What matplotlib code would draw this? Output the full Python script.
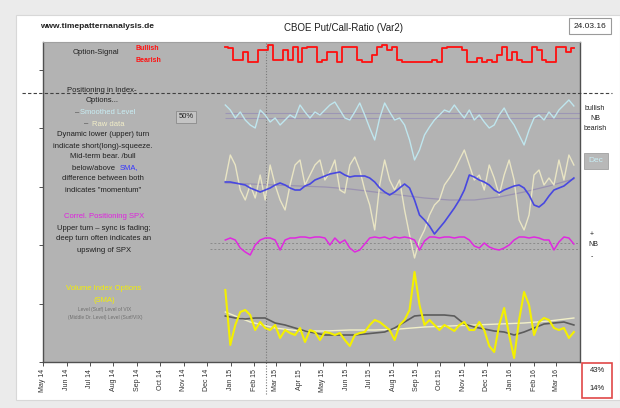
"""
CBOE Put/Call-Ratio (Var2) - Nachbau des Charts von timepatternanalysis.de
Werte grob aus dem Bild abgelesen (Skala ohne Beschriftung, 0 = Unterkante, 320 = Oberkante)
"""
import pandas as pd
import matplotlib
matplotlib.use('Agg')
import matplotlib.pyplot as plt
from matplotlib.lines import Line2D
from matplotlib.patches import Rectangle

plt.rcParams['font.family'] = ['Liberation Sans', 'DejaVu Sans']

# Datenbereich: 25.12.2014 - 24.03.2016
DATA_START = '2014-12-25'
DATA_END = '2016-03-24'

# Option-Signal (Rechteckkurve bullish/bearish)
signal = [315, 314, 302, 302, 310, 300, 300, 312, 312, 317,
          302, 302, 312, 302, 315, 300, 314, 315, 315, 300,
          302, 310, 310, 300, 315, 315, 315, 302, 300, 300,
          307, 315, 317, 312, 315, 302, 300, 300, 300, 300,
          300, 300, 302, 300, 314, 315, 315, 315, 312, 300,
          300, 304, 300, 302, 300, 307, 315, 302, 310, 302,
          300, 300, 315, 312, 302, 300, 300, 315, 315, 310, 314]

# Positioning - Smoothed Level
smoothed = [257, 252, 244, 250, 242, 237, 234, 252, 247, 240,
            244, 237, 242, 247, 244, 257, 250, 244, 250, 247,
            252, 257, 260, 252, 244, 242, 250, 259, 247, 234,
            222, 244, 259, 250, 242, 244, 237, 222, 202, 212,
            227, 235, 242, 247, 252, 250, 257, 250, 244, 252,
            242, 247, 240, 234, 237, 247, 254, 244, 237, 227,
            217, 232, 244, 247, 242, 250, 244, 252, 257, 262, 256]

# Positioning - Raw data
raw = [182, 207, 197, 172, 162, 177, 164, 187, 162, 197,
       177, 162, 152, 177, 197, 202, 177, 187, 197, 202,
       182, 190, 202, 172, 169, 197, 205, 192, 172, 157,
       132, 177, 202, 182, 172, 182, 152, 127, 104, 122,
       132, 147, 157, 162, 177, 184, 192, 202, 212, 197,
       182, 187, 172, 197, 184, 167, 187, 202, 182, 142,
       132, 147, 187, 192, 177, 184, 177, 202, 182, 207, 197]

# SMA der Rohdaten
sma = [180, 180, 179, 178, 177, 174, 172, 170, 172, 174,
       177, 179, 177, 174, 172, 172, 176, 178, 182, 184,
       186, 188, 189, 190, 187, 185, 186, 186, 186, 184,
       180, 174, 170, 167, 170, 174, 178, 174, 162, 147,
       142, 136, 128, 134, 140, 147, 154, 162, 172, 187,
       185, 182, 180, 177, 172, 169, 172, 174, 176, 177,
       174, 167, 157, 155, 159, 166, 172, 174, 176, 180, 184]

# langfristiger Trend (grau)
raw_trend = [179, 178, 177, 176, 175, 173, 170, 167, 164, 162, 162, 165, 170, 176, 183]

# Korrelation Positioning / SPX
correl = [122, 124, 122, 114, 110, 107, 117, 122, 124, 124,
          122, 112, 122, 124, 124, 125, 125, 124, 125, 125,
          124, 117, 124, 119, 122, 114, 110, 112, 118, 124,
          125, 124, 125, 123, 125, 124, 125, 124, 122, 112,
          121, 125, 125, 124, 125, 125, 124, 125, 125, 122,
          116, 114, 119, 115, 113, 112, 114, 117, 122, 125,
          125, 124, 125, 124, 122, 122, 112, 120, 125, 124, 118]

# Volumen Index-Optionen (SMA)
volume = [72, 17, 37, 50, 52, 47, 32, 40, 34, 32,
          37, 24, 32, 29, 27, 34, 20, 32, 30, 22,
          30, 29, 27, 29, 22, 16, 27, 29, 30, 37,
          42, 40, 36, 32, 22, 37, 42, 52, 90, 57,
          37, 42, 37, 32, 37, 34, 31, 37, 40, 32,
          32, 40, 32, 16, 10, 37, 54, 27, 4, 42,
          70, 57, 27, 40, 44, 42, 34, 32, 34, 24, 30]

volume_ma = [46, 44, 43, 44, 44, 39, 37, 34, 31, 29,
             27, 27, 27, 27, 28, 29, 30, 34, 40, 46,
             47, 47, 47, 46, 38, 35, 33, 31, 30, 27,
             30, 34, 38, 39, 40, 37]

volume_trend = [50, 40, 34, 31, 31, 32, 32, 33, 35, 36, 37, 38, 39, 41, 44]

month_labels = ['May 14', 'Jun 14', 'Jul 14', 'Aug 14', 'Sep 14', 'Oct 14', 'Nov 14',
                'Dec 14', 'Jan 15', 'Feb 15', 'Mar 15', 'Apr 15', 'May 15', 'Jun 15',
                'Jul 15', 'Aug 15', 'Sep 15', 'Oct 15', 'Nov 15', 'Dec 15', 'Jan 16',
                'Feb 16', 'Mar 16']

W, H = 620, 408


def fx(px):
    return px / W


def fy(py):
    return 1 - py / H


def ftext(fig, px, py, s, **kw):
    kw.setdefault('ha', 'center')
    kw.setdefault('va', 'center')
    kw.setdefault('fontsize', 5.5)
    kw.setdefault('color', '#202020')
    fig.text(fx(px), fy(py), s, **kw)


def run():
    fig = plt.figure(figsize=(W / 100, H / 100), dpi=100, facecolor='#ebebeb')
    fig.add_artist(Rectangle((fx(16), fy(400)), fx(620) - fx(16), fy(15) - fy(400),
                             transform=fig.transFigure, facecolor='white', edgecolor='#d8d8d8',
                             lw=0.8, zorder=-10))

    ax = fig.add_axes([fx(43), fy(362), fx(580) - fx(43), fy(42) - fy(362)])
    ax.set_facecolor('#b3b3b3')

    x = pd.date_range(DATA_START, DATA_END, periods=len(signal))
    x_ma = pd.date_range(DATA_START, DATA_END, periods=len(volume_ma))
    x_tr = pd.date_range(DATA_START, DATA_END, periods=len(raw_trend))
    x_vt = pd.date_range(DATA_START, DATA_END, periods=len(volume_trend))

    # Hilfslinien
    ax.hlines([249, 244], pd.Timestamp(DATA_START), pd.Timestamp('2016-04-01'), color='#9c96b4', lw=0.8)
    ax.hlines([119, 113], pd.Timestamp('2014-12-05'), pd.Timestamp('2016-04-01'), color='#8a8a8a',
              lw=0.7, linestyles=(0, (2, 2)))
    ax.axvline(pd.Timestamp('2015-02-16'), ymin=-0.1, ymax=1, color='#7a7a7a', lw=0.8,
               linestyle=(0, (1, 1.5)), clip_on=False)

    ax.plot(x, signal, color='#ff1010', lw=1.3, drawstyle='steps-mid')
    ax.plot(x, smoothed, color='#bfe6ee', lw=1.0)
    ax.plot(x_tr, raw_trend, color='#9a92b0', lw=0.9)
    ax.plot(x, raw, color='#e9e5c4', lw=1.0)
    ax.plot(x, sma, color='#4848e0', lw=1.2)
    ax.plot(x, correl, color='#e028e0', lw=1.1)
    ax.plot(x_vt, volume_trend, color='#f2f0c8', lw=1.0)
    ax.plot(x_ma, volume_ma, color='#5c5c5c', lw=1.2)
    ax.plot(x, volume, color='#f4f000', lw=1.5)

    ax.set_xlim(pd.Timestamp('2014-05-01'), pd.Timestamp('2016-04-01'))
    ax.set_ylim(0, 320)
    ticks = pd.date_range('2014-05-01', periods=len(month_labels), freq='MS')
    ax.set_xticks(ticks)
    ax.set_xticklabels(month_labels, rotation=90, fontsize=5, color='#303030')
    ax.set_yticks([0, 58.4, 116.8, 175.2, 233.6, 292])
    ax.set_yticklabels([])
    ax.tick_params(axis='both', length=3, width=0.7, color='#505050', pad=2)
    for side in ['left', 'bottom', 'right']:
        ax.spines[side].set_color('#505050')
        ax.spines[side].set_linewidth(1.0)
    ax.spines['top'].set_color('#a0a0a0')

    # gestrichelte Trennlinie quer ueber die Grafik
    fig.add_artist(Line2D([fx(22), fx(612)], [fy(93), fy(93)], transform=fig.transFigure,
                          color='#404040', lw=0.8, linestyle=(0, (3, 2)), zorder=5))

    # Kopfzeile
    ftext(fig, 40, 26, 'www.timepatternanalysis.de', ha='left', fontsize=6, fontweight='bold')
    ftext(fig, 343, 28, 'CBOE Put/Call-Ratio (Var2)', fontsize=7)
    ftext(fig, 590, 26, '24.03.16', fontsize=6,
          bbox=dict(boxstyle='square,pad=0.55', facecolor='white', edgecolor='#9a9a9a', lw=0.8))

    # Legende links
    ftext(fig, 96, 53, 'Option-Signal')
    ftext(fig, 135, 49, 'Bullish', ha='left', color='#ff1010', fontweight='bold', fontsize=5)
    ftext(fig, 135, 61, 'Bearish', ha='left', color='#ff1010', fontweight='bold', fontsize=5)

    ftext(fig, 102, 91, 'Positioning in Index-')
    ftext(fig, 102, 101, 'Options...')
    ftext(fig, 77, 113, '–', color='#404040')
    ftext(fig, 108, 113, 'Smoothed Level', color='#c8eef5')
    ftext(fig, 86, 124, '–', color='#404040')
    ftext(fig, 108, 124, 'Raw data', color='#f2eec8')

    ftext(fig, 103, 135, 'Dynamic lower (upper) turn')
    ftext(fig, 103, 146, 'indicate short(long)-squeeze.')
    ftext(fig, 103, 157, 'Mid-term bear. /bull')
    ftext(fig, 117, 168, 'below/above ', ha='right')
    ftext(fig, 120, 168, 'SMA,', ha='left', color='#3434ff')
    ftext(fig, 103, 179, 'difference between both')
    ftext(fig, 103, 191, 'indicates "momentum"')

    ftext(fig, 104, 217, 'Correl. Positioning SPX', color='#e020e0')
    ftext(fig, 104, 228, 'Upper turn – sync is fading;')
    ftext(fig, 104, 239, 'deep turn often indicates an')
    ftext(fig, 104, 251, 'upswing of SPX')

    ftext(fig, 104, 288, 'Volume Index Options', color='#f4f000')
    ftext(fig, 104, 300, '(SMA)', color='#f4f000')
    ftext(fig, 105, 309, 'Level (Surf) Level of VIX', fontsize=3.5, color='#707070')
    ftext(fig, 105, 317, '(Middle Dr. Level) Level (Surf/VIX)', fontsize=3.5, color='#707070')

    ftext(fig, 186, 117, '50%', fontsize=5.5,
          bbox=dict(boxstyle='square,pad=0.3', facecolor='#c4c4c4', edgecolor='#8a8a8a', lw=0.6))

    # rechte Seite
    ftext(fig, 595, 108, 'bullish', fontsize=5)
    ftext(fig, 595, 118, 'NB', fontsize=5)
    ftext(fig, 595, 129, 'bearish', fontsize=5)
    ftext(fig, 596, 161, 'Dec', fontsize=6, color='#c8eef5',
          bbox=dict(boxstyle='square,pad=0.5', facecolor='#b8b8b8', edgecolor='#a0a0a0', lw=0.6))
    ftext(fig, 592, 235, '+', fontsize=5)
    ftext(fig, 593, 245, 'NB', fontsize=5)
    ftext(fig, 592, 257, '-', fontsize=5)

    fig.add_artist(Rectangle((fx(582), fy(398)), fx(612) - fx(582), fy(363) - fy(398),
                             transform=fig.transFigure, facecolor='white', edgecolor='#e04848', lw=1.2))
    ftext(fig, 597, 371, '43%', fontsize=5.5)
    ftext(fig, 597, 388, '14%', fontsize=5.5)

    fig.savefig('out.png', dpi=100, facecolor=fig.get_facecolor())
    plt.close(fig)


if __name__ == '__main__':
    run()
